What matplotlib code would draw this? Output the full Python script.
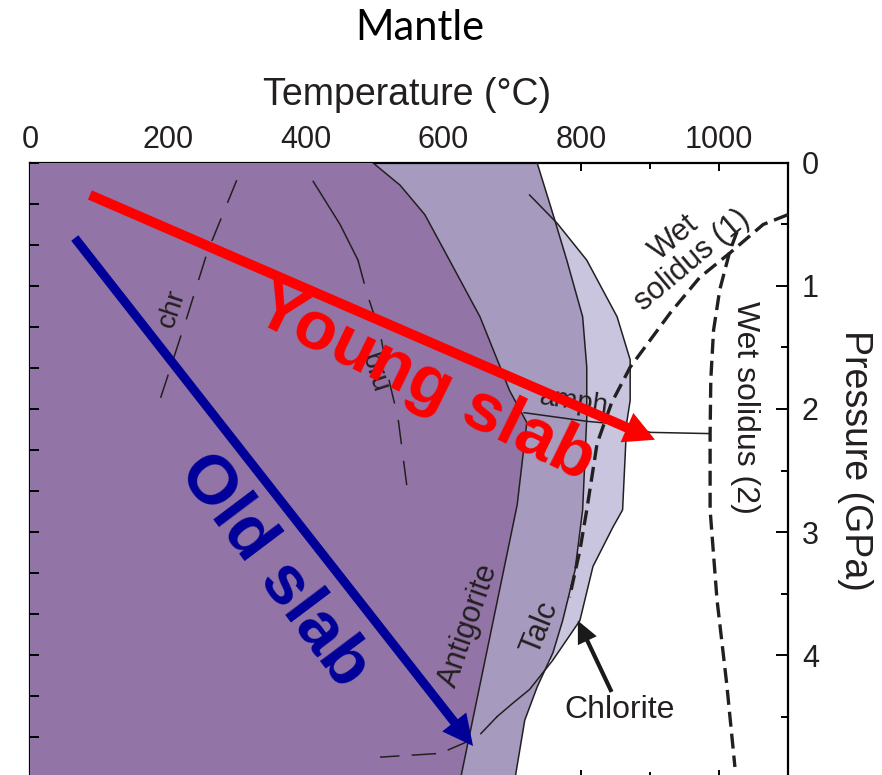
import numpy as np
import matplotlib.pyplot as plt
from matplotlib.patches import FancyArrowPatch
from matplotlib.ticker import MultipleLocator

plt.rcParams['font.family'] = ['Liberation Sans', 'DejaVu Sans']

# phase boundaries: temperature (C) and pressure (GPa)
antigorite_T = [498, 537, 573, 602, 653, 696, 721, 707, 625]
antigorite_P = [0.0, 0.18, 0.42, 0.72, 1.25, 1.85, 2.11, 2.78, 5.0]

talc_T = [736, 757, 779, 802, 808, 808, 802, 791, 773, 759, 736, 718, 704]
talc_P = [0.0, 0.38, 0.79, 1.25, 1.66, 2.07, 2.82, 3.31, 3.72, 3.98, 4.26, 4.53, 5.0]

chlorite_T = [725, 765, 808, 852, 871, 871, 866, 860, 846, 817, 798, 759, 725, 701, 678]
chlorite_P = [0.26, 0.49, 0.79, 1.25, 1.60, 1.93, 2.11, 2.82, 2.96, 3.28, 3.72, 4.04, 4.28, 4.39, 4.50]
chlorite_tail_T = [678, 649, 595, 508]
chlorite_tail_P = [4.50, 4.67, 4.80, 4.83]

amph_T = [717, 808, 866, 900, 987]
amph_P = [2.03, 2.10, 2.13, 2.19, 2.20]

chr_T = [300, 257, 228, 203, 186]
chr_P = [0.14, 0.73, 1.25, 1.68, 1.97]

bru_T = [411, 450, 476, 489, 508, 522, 534, 547]
bru_P = [0.15, 0.50, 0.79, 1.06, 1.38, 1.79, 2.07, 2.63]

wet1_T = [1100, 1064, 1016, 972, 929, 871, 844, 823, 808, 798, 783]
wet1_P = [0.42, 0.50, 0.73, 0.93, 1.22, 1.66, 1.95, 2.28, 2.82, 3.15, 3.53]

wet2_T = [1026, 1016, 1001, 992, 988, 987, 987, 997, 1011, 1023]
wet2_P = [0.56, 0.71, 1.03, 1.36, 1.76, 2.20, 2.82, 3.55, 4.23, 4.91]

# slab P-T paths (start, end)
young_T = [87, 907]
young_P = [0.26, 2.25]
old_T = [65, 643]
old_P = [0.61, 4.74]

chlorite_arrow_T = [844, 795]
chlorite_arrow_P = [4.30, 3.72]

x_ticks = [0, 200, 400, 600, 800, 1000]
y_ticks = [0, 1, 2, 3, 4]

c_dark = '#9275a6'
c_mid = '#a69bbe'
c_light = '#c9c5df'
c_line = '#231f20'

fig = plt.figure(figsize=(8.82, 7.75), dpi=100)
ax = fig.add_axes([0.034, -0.0039, 0.8594, 0.7936])

# unlabelled depth ticks on the left side (twinx first, it moves the main ticks)
ax_left = ax.twinx()
ax_left.set_ylim(5, 0)
ax_left.set_yticks(np.arange(0, 5.01, 1 / 3))
ax_left.tick_params(axis='y', direction='in', length=6.5, width=1.4, left=True, right=False,
                    labelleft=False, labelright=False)
for s in ax_left.spines.values():
    s.set_visible(False)

ax.set_xlim(0, 1100)
ax.set_ylim(5, 0)

# stability fields, drawn back to front
light_T = [0, 736, 757] + chlorite_T[1:12] + [0]
light_P = [0, 0, 0.38] + chlorite_P[1:12] + [chlorite_P[11]]
ax.fill(light_T, light_P, color=c_light, lw=0, zorder=1)
ax.fill([0] + talc_T + [0], [0] + talc_P + [5], color=c_mid, lw=0, zorder=2)
ax.fill([0] + antigorite_T + [0], [0] + antigorite_P + [5], color=c_dark, lw=0, zorder=3)

ax.plot(antigorite_T, antigorite_P, color=c_line, lw=1.1, zorder=4)
ax.plot(talc_T, talc_P, color=c_line, lw=1.1, zorder=4)
ax.plot(chlorite_T, chlorite_P, color=c_line, lw=1.1, zorder=4)
ax.plot(chlorite_tail_T, chlorite_tail_P, color=c_line, lw=1.1, dashes=(16, 8), zorder=4)
ax.plot(amph_T, amph_P, color=c_line, lw=1.1, zorder=4)
ax.plot(chr_T, chr_P, color=c_line, lw=1.1, dashes=(16, 11), zorder=4)
ax.plot(bru_T[:3], bru_P[:3], color=c_line, lw=1.1, zorder=4)
ax.plot(bru_T[2:], bru_P[2:], color=c_line, lw=1.1, dashes=(16, 11), zorder=4)

ax.plot(wet1_T, wet1_P, color=c_line, lw=2.4, dashes=(4.5, 2.1), zorder=5)
ax.plot(wet2_T, wet2_P, color=c_line, lw=2.4, dashes=(4.5, 2.1), zorder=5)

lab = dict(color=c_line, ha='center', va='center', zorder=6)
ax.text(206, 1.18, 'chr', fontsize=20, rotation=72, **lab)
ax.text(500, 1.71, 'bru', fontsize=20, rotation=-72, **lab)
ax.text(790, 1.94, 'amph', fontsize=20, rotation=-8, **lab)
ax.text(948, 0.70, 'Wet\nsolidus (1)', fontsize=22, rotation=40,
        linespacing=0.95, multialignment='center', **lab)
ax.text(1037, 1.99, 'Wet solidus (2)', fontsize=23, rotation=-90, **lab)
ax.text(637, 3.76, 'Antigorite', fontsize=22, rotation=71, **lab)
ax.text(740, 3.78, 'Talc', fontsize=22, rotation=68, **lab)
ax.text(856, 4.45, 'Chlorite', fontsize=23, **lab)

ax.add_patch(FancyArrowPatch((chlorite_arrow_T[0], chlorite_arrow_P[0]),
                             (chlorite_arrow_T[1], chlorite_arrow_P[1]),
                             arrowstyle='simple,head_length=1.6,head_width=1.5,tail_width=0.3',
                             mutation_scale=10, color='#1a1a1a', lw=0,
                             shrinkA=0, shrinkB=0, zorder=6))

# slab paths
ax.add_patch(FancyArrowPatch((young_T[0], young_P[0]), (young_T[1], young_P[1]),
                             arrowstyle='simple,head_length=2.2,head_width=2.3,tail_width=0.72',
                             mutation_scale=10, color='#ff0000', lw=0,
                             shrinkA=0, shrinkB=0, zorder=7))
ax.add_patch(FancyArrowPatch((old_T[0], old_P[0]), (old_T[1], old_P[1]),
                             arrowstyle='simple,head_length=2.2,head_width=2.2,tail_width=0.65',
                             mutation_scale=10, color='#000099', lw=0,
                             shrinkA=0, shrinkB=0, zorder=7))
ax.text(573, 1.80, 'Young slab', color='#ff0000', fontsize=50, fontweight='bold',
        rotation=-26, ha='center', va='center', zorder=8)
ax.text(355, 3.31, 'Old slab', color='#000099', fontsize=50, fontweight='bold',
        rotation=-53, ha='center', va='center', zorder=8)

# axes: temperature on top, pressure on the right
ax.set_xticks(x_ticks)
ax.xaxis.set_minor_locator(MultipleLocator(100))
ax.set_yticks(y_ticks)
ax.yaxis.set_minor_locator(MultipleLocator(0.5))
ax.tick_params(axis='x', which='both', direction='in', top=True, bottom=True,
               labeltop=True, labelbottom=False, labelsize=22, labelcolor=c_line, pad=6)
ax.tick_params(axis='x', which='major', length=6, width=1.4)
ax.tick_params(axis='x', which='minor', length=4, width=1.4)
ax.tick_params(axis='y', which='both', direction='in', left=False, right=True,
               labelleft=False, labelright=True, labelsize=22, labelcolor=c_line, pad=10)
ax.tick_params(axis='y', which='major', length=8.5, width=1.4)
ax.tick_params(axis='y', which='minor', length=5, width=1.4)

for s in ax.spines.values():
    s.set_linewidth(1.6)

ax.xaxis.set_label_position('top')
ax.set_xlabel('Temperature (°C)', fontsize=27, color=c_line)
ax.xaxis.set_label_coords(0.497, 1.094)
ax.yaxis.set_label_position('right')
ax.set_ylabel('Pressure (GPa)', fontsize=27, color=c_line, rotation=-90, va='center')
ax.yaxis.set_label_coords(1.088, 0.517)

fig.text(420 / 882, 1 - 28 / 775, 'Mantle', fontsize=30, family='Lato',
         ha='center', va='center')

fig.savefig('out.png', dpi=100)
